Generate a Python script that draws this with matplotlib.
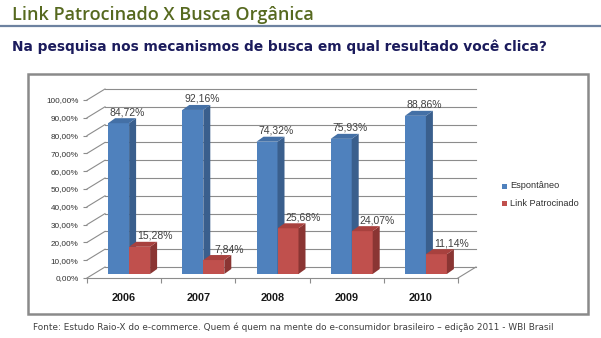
import matplotlib
matplotlib.use("Agg")
import matplotlib.pyplot as plt
from matplotlib.patches import Rectangle, Polygon
from matplotlib.lines import Line2D

# ---------------- data ----------------
years = ["2006", "2007", "2008", "2009", "2010"]
espontaneo = [84.72, 92.16, 74.32, 75.93, 88.86]
patrocinado = [15.28, 7.84, 25.68, 24.07, 11.14]
series_names = ["Espontâneo", "Link Patrocinado"]
yticks = list(range(0, 101, 10))
ytick_labels = [f"{v},00%" for v in yticks]

title = "Link Patrocinado X Busca Orgânica"
subtitle = "Na pesquisa nos mecanismos de busca em qual resultado você clica?"
source = ("Fonte: Estudo Raio-X do e-commerce. Quem é quem na mente do "
          "e-consumidor brasileiro – edição 2011 - WBI Brasil")

# ---------------- style ----------------
W, H = 601, 338
BLUE = ("#4f81bd", "#3a5f8d", "#4470a6")   # front, side, top
RED = ("#c0504d", "#8a3533", "#a8413e")
GRID = "#8c8c8c"

fig = plt.figure(figsize=(W / 100, H / 100), dpi=100)
fig.patch.set_facecolor("white")


def fx(px):
    return px / W


def fy(py):
    return 1 - py / H


# header
fig.text(fx(11.5), fy(20.5), title, fontsize=13, color="#56691f",
         family="Open Sans", weight="semibold", va="baseline", ha="left")
fig.add_artist(Line2D([0, 1], [fy(26), fy(26)], color="#6d82a0",
                      lw=1.6, transform=fig.transFigure))
fig.text(fx(12), fy(51.5), subtitle, fontsize=9.9, color="#1b1b5c",
         weight="bold", family="DejaVu Sans", va="baseline", ha="left")

# chart frame
fig.add_artist(Rectangle((fx(28), fy(314)), fx(588) - fx(28), fy(74) - fy(314),
                         transform=fig.transFigure, fill=False,
                         edgecolor="#8a8a8a", lw=1.8))

# source
fig.text(fx(33), fy(330), source, fontsize=6.4, color="#404040",
         family="DejaVu Sans", va="baseline", ha="left")

# ---------------- axes (front plane) ----------------
L, R, T, B = 87, 458, 100, 278
ax = fig.add_axes([fx(L), fy(B), fx(R) - fx(L), fy(T) - fy(B)])
ax.set_xlim(-0.5, len(years) - 0.5)
ax.set_ylim(0, 100)
ax.patch.set_alpha(0)
for s in ax.spines.values():
    s.set_visible(False)

SX = (R - L) / len(years)   # px per category
SY = (B - T) / 100.0        # px per percent

WX, WY = 18 / SX, 11 / SY   # wall depth
BX, BY = 5 / SX, 4 / SY     # bar plane offset
DX, DY = 7 / SX, 5 / SY     # bar depth
BW = 21 / SX                # bar width

x0, x1 = -0.5, len(years) - 0.5
# back wall gridlines and left wall diagonals
for v in yticks:
    ax.plot([x0 + WX, x1 + WX], [v + WY, v + WY], color=GRID, lw=0.8,
            clip_on=False, zorder=1)
    ax.plot([x0, x0 + WX], [v, v + WY], color=GRID, lw=0.8,
            clip_on=False, zorder=1)
# floor
ax.plot([x0, x1], [0, 0], color=GRID, lw=0.8, clip_on=False, zorder=1)
ax.plot([x1, x1 + WX], [0, WY], color=GRID, lw=0.8, clip_on=False, zorder=1)


def bar3d(xl, val, cols):
    xr = xl + BW
    y0 = BY
    top = BY + val
    ax.add_patch(Rectangle((xl, y0), BW, val, facecolor=cols[0],
                           edgecolor="none", clip_on=False, zorder=3))
    ax.add_patch(Polygon([(xr, y0), (xr + DX, y0 + DY), (xr + DX, top + DY),
                          (xr, top)], closed=True, facecolor=cols[1],
                         edgecolor="none", clip_on=False, zorder=3))
    ax.add_patch(Polygon([(xl, top), (xr, top), (xr + DX, top + DY),
                          (xl + DX, top + DY)], closed=True, facecolor=cols[2],
                         edgecolor="none", clip_on=False, zorder=3))


for i, (a, b) in enumerate(zip(espontaneo, patrocinado)):
    xc = i + BX
    bar3d(xc - BW, a, BLUE)
    bar3d(xc, b, RED)
    ax.annotate(f"{a:.2f}".replace(".", ",") + "%", (xc - BW / 2, a + BY),
                xytext=(9 * 0.72, 11 * 0.72), textcoords="offset points",
                ha="center", va="center", fontsize=7.5, color="#404040",
                family="Liberation Sans", zorder=5, annotation_clip=False)
    ax.annotate(f"{b:.2f}".replace(".", ",") + "%", (xc + BW / 2, b + BY),
                xytext=(15 * 0.72, 11 * 0.72), textcoords="offset points",
                ha="center", va="center", fontsize=7.5, color="#404040",
                family="Liberation Sans", zorder=5, annotation_clip=False)

# y ticks
ax.set_yticks(yticks)
ax.set_yticklabels(ytick_labels, family="Liberation Sans", fontsize=5.9,
                   color="#303030")
ax.tick_params(axis="y", length=3, width=0.8, color=GRID, pad=3)

# x ticks
ax.set_xticks(range(len(years)))
ax.set_xticklabels(years, family="Liberation Sans", fontsize=7.8,
                   weight="bold", color="#1a1a1a")
ax.set_xticks([i - 0.5 for i in range(len(years) + 1)], minor=True)
ax.tick_params(axis="x", which="major", length=0, pad=11)
ax.tick_params(axis="x", which="minor", length=3.5, width=0.8, color=GRID)

# legend
for k, (name, col) in enumerate(zip(series_names, (BLUE[0], RED[0]))):
    yy = 186 + k * 17
    fig.add_artist(Rectangle((fx(502), fy(yy + 2.5)), fx(5), fy(yy - 2.5) - fy(yy + 2.5),
                             transform=fig.transFigure, facecolor=col,
                             edgecolor="none"))
    fig.text(fx(510), fy(yy), name, fontsize=6.6, color="#303030",
             family="Liberation Sans", va="center", ha="left")

fig.savefig("out.png", dpi=100)
